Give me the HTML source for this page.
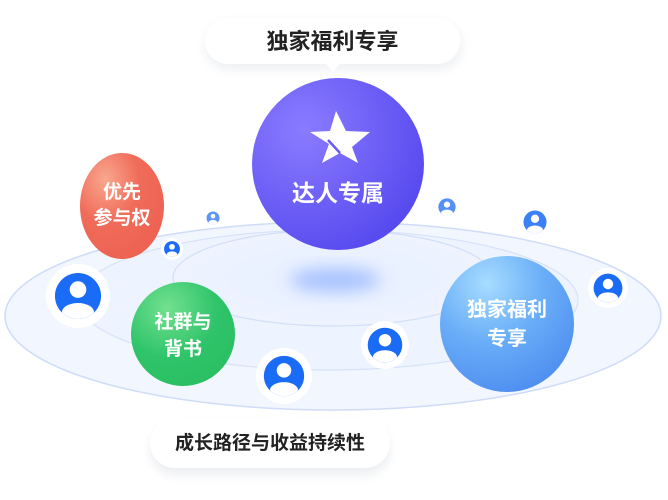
<!DOCTYPE html>
<html><head><meta charset="utf-8"><style>
html,body{margin:0;padding:0;background:#fff;}
body{width:668px;height:500px;position:relative;overflow:hidden;font-family:"Liberation Sans","Noto Sans CJK SC",sans-serif;}
.t{position:absolute;font-weight:bold;text-align:center;}
</style></head><body>
<svg width="668" height="500" style="position:absolute;left:0;top:0">
<defs>
<radialGradient id="pur" cx="0.3" cy="0.3" r="0.8"><stop offset="0" stop-color="#8a7cff"/><stop offset="1" stop-color="#5548ee"/></radialGradient>
<radialGradient id="red" cx="0.3" cy="0.25" r="0.8"><stop offset="0" stop-color="#f9a78f"/><stop offset="0.5" stop-color="#f06c5a"/><stop offset="1" stop-color="#ee6252"/></radialGradient>
<radialGradient id="grn" cx="0.35" cy="0.25" r="0.8"><stop offset="0" stop-color="#72e08f"/><stop offset="0.6" stop-color="#2fc46a"/><stop offset="1" stop-color="#2bbf62"/></radialGradient>
<radialGradient id="blu" cx="0.35" cy="0.2" r="0.85"><stop offset="0" stop-color="#a6dcff"/><stop offset="0.5" stop-color="#6aaef8"/><stop offset="1" stop-color="#4e8ef0"/></radialGradient>
<radialGradient id="disk" cx="0.5" cy="0.5" r="0.5"><stop offset="0" stop-color="#e6efff"/><stop offset="1" stop-color="#eef3ff"/></radialGradient>
<filter id="bl" x="-50%" y="-50%" width="200%" height="200%"><feGaussianBlur stdDeviation="8"/></filter>
<filter id="sh" x="-20%" y="-50%" width="140%" height="200%"><feGaussianBlur stdDeviation="5"/></filter>
<g id="av">
<circle r="1" fill="#fff"/>
<circle r="0.72" fill="#1a6bf5"/>
<circle cy="-0.2" r="0.26" fill="#fff"/>
<clipPath id="cp"><circle r="0.72"/></clipPath>
<ellipse cy="0.5" rx="0.5" ry="0.28" fill="#fff" clip-path="url(#cp)"/>
</g>
</defs>
<ellipse cx="333" cy="316" rx="328" ry="94" fill="#f2f6ff" stroke="#cfdcf8" stroke-width="1.5"/>
<ellipse cx="328" cy="300" rx="250" ry="70" fill="#edf3ff" stroke="#d6e2fa" stroke-width="1.2"/>
<ellipse cx="333" cy="278" rx="160" ry="48" fill="url(#disk)" stroke="#d3dff8" stroke-width="1.2"/>
<ellipse cx="335" cy="280" rx="45" ry="12" fill="#a9c3ff" filter="url(#bl)"/>
<!-- label pills -->
<rect x="205" y="22" width="257" height="48" rx="24" fill="#eef0f3" filter="url(#sh)"/>
<rect x="205" y="18" width="255" height="46" rx="23" fill="#fff"/>
<path d="M326 64 L333 72 L340 64Z" fill="#fff"/>
<rect x="150" y="425" width="240" height="50" rx="25" fill="#eceef2" filter="url(#sh)"/>
<rect x="150" y="418" width="240" height="50" rx="25" fill="#fff"/>
<path d="M277 418 L284 410 L291 418Z" fill="#fff"/>
<!-- spheres -->
<circle cx="338" cy="164" r="86" fill="url(#pur)"/>
<path d="M336 111 L346 131 L370 132 L352 147 L358 163 L340 153 L322 163 L329 144 L310 132 L330 131 Z" fill="#fff"/>
<path d="M328 140 L340 153" stroke="#6a5cf3" stroke-width="2.5"/>
<ellipse cx="122" cy="206" rx="42" ry="53" fill="url(#red)"/>
<use href="#av" transform="translate(213,218) scale(9)" opacity="0.7"/>
<use href="#av" transform="translate(172,249) scale(11)"/>
<use href="#av" transform="translate(447,207) scale(12)" opacity="0.75"/>
<use href="#av" transform="translate(535,222) scale(16)" opacity="0.85"/>
<use href="#av" transform="translate(608,288) scale(20)"/>
<use href="#av" transform="translate(78,296) scale(32)"/>
<circle cx="183" cy="334" r="52" fill="url(#grn)"/>
<use href="#av" transform="translate(385,345) scale(24)"/>
<use href="#av" transform="translate(284,376) scale(28)"/>
<ellipse cx="507" cy="324" rx="67" ry="68" fill="url(#blu)"/>
</svg>
<div class="t" style="left:205px;top:27px;width:255px;font-size:22px;color:#222;line-height:30px">独家福利专享</div>
<div class="t" style="left:252px;top:178px;width:172px;font-size:23px;color:#fff;line-height:30px">达人专属</div>
<div class="t" style="left:80px;top:180px;width:84px;font-size:19px;color:#fff;line-height:26px">优先<br>参与权</div>
<div class="t" style="left:131px;top:309px;width:104px;font-size:19px;color:#fff;line-height:27px">社群与<br>背书</div>
<div class="t" style="left:440px;top:296px;width:134px;font-size:20px;color:#fff;line-height:29px">独家福利<br>专享</div>
<div class="t" style="left:150px;top:430px;width:240px;font-size:19px;color:#222;line-height:28px">成长路径与收益持续性</div>
</body></html>
